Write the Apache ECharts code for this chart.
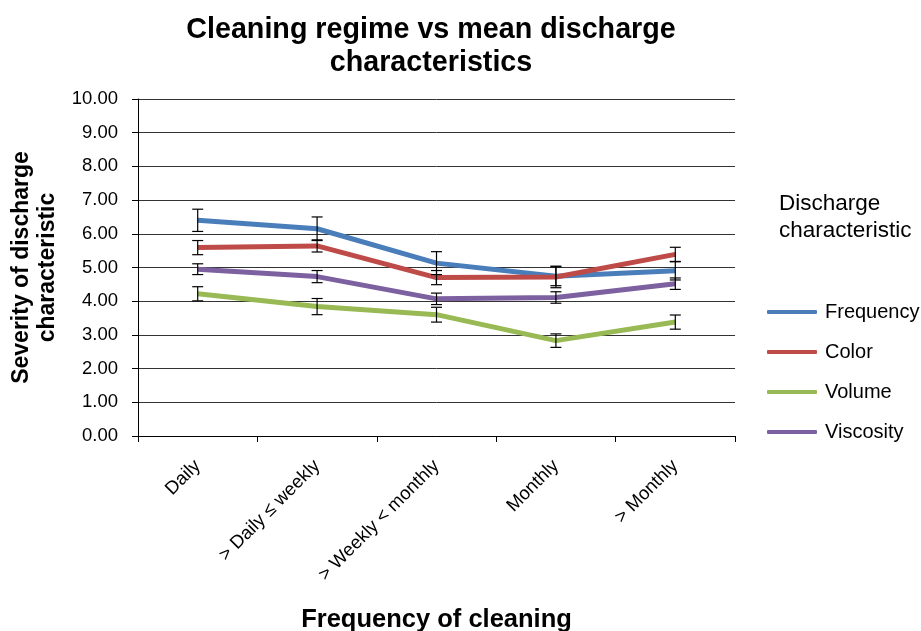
<!DOCTYPE html>
<html>
<head>
<meta charset="utf-8">
<script src="https://cdn.jsdelivr.net/npm/echarts@6/dist/echarts.min.js"></script>
<style>html,body{margin:0;padding:0;background:#fff;}#chart{width:921px;height:631px;}</style>
</head>
<body>
<div id="chart"></div>
<script>
var categories = ['Daily', '> Daily \u2264 weekly', '> Weekly < monthly', 'Monthly', '> Monthly'];
var yTicks = [0, 1, 2, 3, 4, 5, 6, 7, 8, 9, 10];
var frequency = [6.40, 6.15, 5.13, 4.74, 4.90];
var frequencyErr = [0.33, 0.35, 0.34, 0.28, 0.27];
var colorVals = [5.59, 5.64, 4.70, 4.72, 5.39];
var colorErr = [0.21, 0.18, 0.21, 0.32, 0.21];
var volume = [4.22, 3.84, 3.60, 2.83, 3.38];
var volumeErr = [0.21, 0.24, 0.22, 0.20, 0.21];
var viscosity = [4.95, 4.73, 4.07, 4.11, 4.52];
var viscosityErr = [0.16, 0.18, 0.17, 0.17, 0.17];

var seriesDefs = [
  {name: 'Frequency', data: frequency, err: frequencyErr, color: '#4A7EBB'},
  {name: 'Color', data: colorVals, err: colorErr, color: '#BE4B48'},
  {name: 'Volume', data: volume, err: volumeErr, color: '#98B954'},
  {name: 'Viscosity', data: viscosity, err: viscosityErr, color: '#7D60A0'}
];

var font = 'Liberation Sans, Arial, sans-serif';
var series = [];
seriesDefs.forEach(function (s) {
  var errData = s.data.map(function (v, i) { return [i, v - s.err[i], v + s.err[i]]; });
  series.push({
    type: 'custom',
    name: s.name + ' error',
    z: 5,
    silent: true,
    data: errData,
    renderItem: function (params, api) {
      var x = api.value(0);
      var lo = api.coord([x, api.value(1)]);
      var hi = api.coord([x, api.value(2)]);
      var w = 5.5;
      var st = {stroke: '#000', lineWidth: 1.2};
      return {type: 'group', children: [
        {type: 'line', shape: {x1: lo[0], y1: lo[1], x2: hi[0], y2: hi[1]}, style: st},
        {type: 'line', shape: {x1: lo[0] - w, y1: lo[1], x2: lo[0] + w, y2: lo[1]}, style: st},
        {type: 'line', shape: {x1: hi[0] - w, y1: hi[1], x2: hi[0] + w, y2: hi[1]}, style: st}
      ]};
    }
  });
});
seriesDefs.forEach(function (s) {
  series.push({
    type: 'line',
    name: s.name,
    data: s.data,
    symbol: 'none',
    z: 4,
    lineStyle: {color: s.color, width: 5},
    itemStyle: {color: s.color}
  });
});

var chart = echarts.init(document.getElementById('chart'));
chart.setOption({
  animation: false,
  backgroundColor: '#fff',
  title: [
    {text: 'Cleaning regime vs mean discharge\ncharacteristics', left: 426, top: 9, textAlign: 'center',
     textStyle: {fontFamily: font, fontSize: 28.7, fontWeight: 'bold', color: '#000', lineHeight: 33}},
    {text: 'Discharge\ncharacteristic', left: 774, top: 185,
     textStyle: {fontFamily: font, fontSize: 22.5, fontWeight: 'normal', color: '#000', lineHeight: 27}}
  ],
  legend: {
    orient: 'vertical', left: 767, top: 302, padding: 0,
    data: ['Frequency', 'Color', 'Volume', 'Viscosity'],
    icon: 'roundRect',
    itemWidth: 50, itemHeight: 4, itemGap: 20,
    textStyle: {fontFamily: font, fontSize: 20, color: '#000', padding: [0, 0, 0, 3]}
  },
  grid: {left: 138, right: 186, top: 99, bottom: 195, containLabel: false, outerBoundsMode: 'none'},
  xAxis: {
    type: 'category', data: categories, boundaryGap: true,
    name: 'Frequency of cleaning', nameLocation: 'middle', nameGap: 171,
    nameTextStyle: {fontFamily: font, fontSize: 25.5, fontWeight: 'bold', color: '#000'},
    axisLine: {lineStyle: {color: '#000', width: 1}},
    axisTick: {show: true, length: 6, lineStyle: {color: '#000'}},
    axisLabel: {rotate: 45, fontFamily: font, fontSize: 18.5, color: '#000', margin: 27, interval: 0}
  },
  yAxis: {
    type: 'value', min: yTicks[0], max: yTicks[yTicks.length - 1], interval: 1,
    name: 'Severity of discharge\ncharacteristic', nameLocation: 'middle', nameGap: 76, nameRotate: 90,
    nameTextStyle: {fontFamily: font, fontSize: 23, fontWeight: 'bold', color: '#000', lineHeight: 26},
    axisLine: {show: true, lineStyle: {color: '#000', width: 1}},
    axisTick: {show: true, length: 6, lineStyle: {color: '#000'}},
    splitLine: {show: true, lineStyle: {color: '#333', width: 1}},
    axisLabel: {fontFamily: font, fontSize: 18.5, color: '#000', margin: 20,
      formatter: function (v) { return v.toFixed(2); }}
  },
  series: series
});
</script>
</body>
</html>
